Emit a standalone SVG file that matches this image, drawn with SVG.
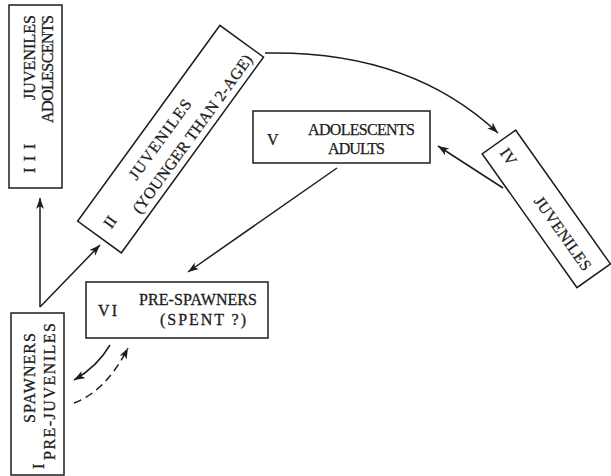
<svg xmlns="http://www.w3.org/2000/svg" width="611" height="476" viewBox="0 0 611 476">
<style>
.box{fill:none;stroke:#1c1c1c;stroke-width:1.5}
.mono{font-family:"Liberation Serif","DejaVu Serif",serif;font-size:16px;fill:#1c1c1c;stroke:#1c1c1c;stroke-width:0.3}
.serif{font-family:"Liberation Serif","DejaVu Serif",serif;font-size:16px;fill:#1c1c1c;stroke:#1c1c1c;stroke-width:0.25}
.conn{fill:none;stroke:#1c1c1c;stroke-width:1.5}
.dash{stroke-dasharray:8 5}
</style>
<defs>
<marker id="ah" markerUnits="userSpaceOnUse" markerWidth="12" markerHeight="9" refX="11" refY="4" orient="auto">
<path d="M0,0 L11,4 L0,8 L3,4 z" fill="#1c1c1c"/>
</marker>
</defs>
<rect width="611" height="476" fill="#ffffff"/>

<g id="node-III">
<rect class="box" x="9" y="5" width="53" height="183"/>
<text class="mono" transform="translate(35,100) rotate(-90)" textLength="85" lengthAdjust="spacing">JUVENILES</text>
<text class="mono" transform="translate(53,123) rotate(-90)" textLength="108" lengthAdjust="spacing">ADOLESCENTS</text>
<text class="mono" transform="translate(35,173) rotate(-90)" textLength="29" lengthAdjust="spacing">III</text>
</g>

<g id="node-I">
<rect class="box" x="11" y="313" width="53" height="162"/>
<text class="mono" transform="translate(35,423) rotate(-90)" textLength="90" lengthAdjust="spacing">SPAWNERS</text>
<text class="mono" transform="translate(55,460) rotate(-90)" textLength="137" lengthAdjust="spacing">PRE-JUVENILES</text>
<text class="mono" transform="translate(44,469) rotate(-90)">I</text>
</g>

<g id="node-II" transform="translate(170.6,139.1) rotate(-54)">
<rect class="box" x="-121" y="-27" width="242" height="54"/>
<text class="serif" x="-54" y="-3" textLength="95" lengthAdjust="spacing">JUVENILES</text>
<text class="serif" x="-108" y="5">II</text>
<text class="serif" x="-79" y="20" textLength="192" lengthAdjust="spacing">(YOUNGER THAN 2-AGE)</text>
</g>

<g id="node-V">
<rect class="box" x="253" y="111" width="177" height="52"/>
<text class="serif" x="267" y="145">V</text>
<text class="serif" x="308" y="135" textLength="107" lengthAdjust="spacing">ADOLESCENTS</text>
<text class="serif" x="328" y="154" textLength="57" lengthAdjust="spacing">ADULTS</text>
</g>

<g id="node-IV" transform="translate(546.3,208.9) rotate(54.7)">
<rect class="box" x="-82" y="-20.5" width="164" height="41"/>
<text class="serif" x="-73" y="6">IV</text>
<text class="serif" x="-14" y="6" textLength="87" lengthAdjust="spacing">JUVENILES</text>
</g>

<g id="node-VI">
<rect class="box" x="86" y="282" width="182" height="56"/>
<text class="mono" x="98" y="316" textLength="19" lengthAdjust="spacing">VI</text>
<text class="mono" x="139" y="305" textLength="118" lengthAdjust="spacing">PRE-SPAWNERS</text>
<text class="mono" x="160" y="325" textLength="86" lengthAdjust="spacing">(SPENT ?)</text>
</g>

<g id="connectors">
<path class="conn" d="M40,307 L40,198" marker-end="url(#ah)"/>
<path class="conn" d="M40,307 L100,245" marker-end="url(#ah)"/>
<path class="conn" d="M265,53 Q410,50 498,133" marker-end="url(#ah)"/>
<path class="conn" d="M503,188 L438,146" marker-end="url(#ah)"/>
<path class="conn" d="M337,168 L188,272" marker-end="url(#ah)"/>
<path class="conn" d="M110,345 Q97,367 74,380" marker-end="url(#ah)"/>
<path class="conn dash" d="M74,403 Q106,391 128,348" marker-end="url(#ah)"/>
</g>
</svg>
